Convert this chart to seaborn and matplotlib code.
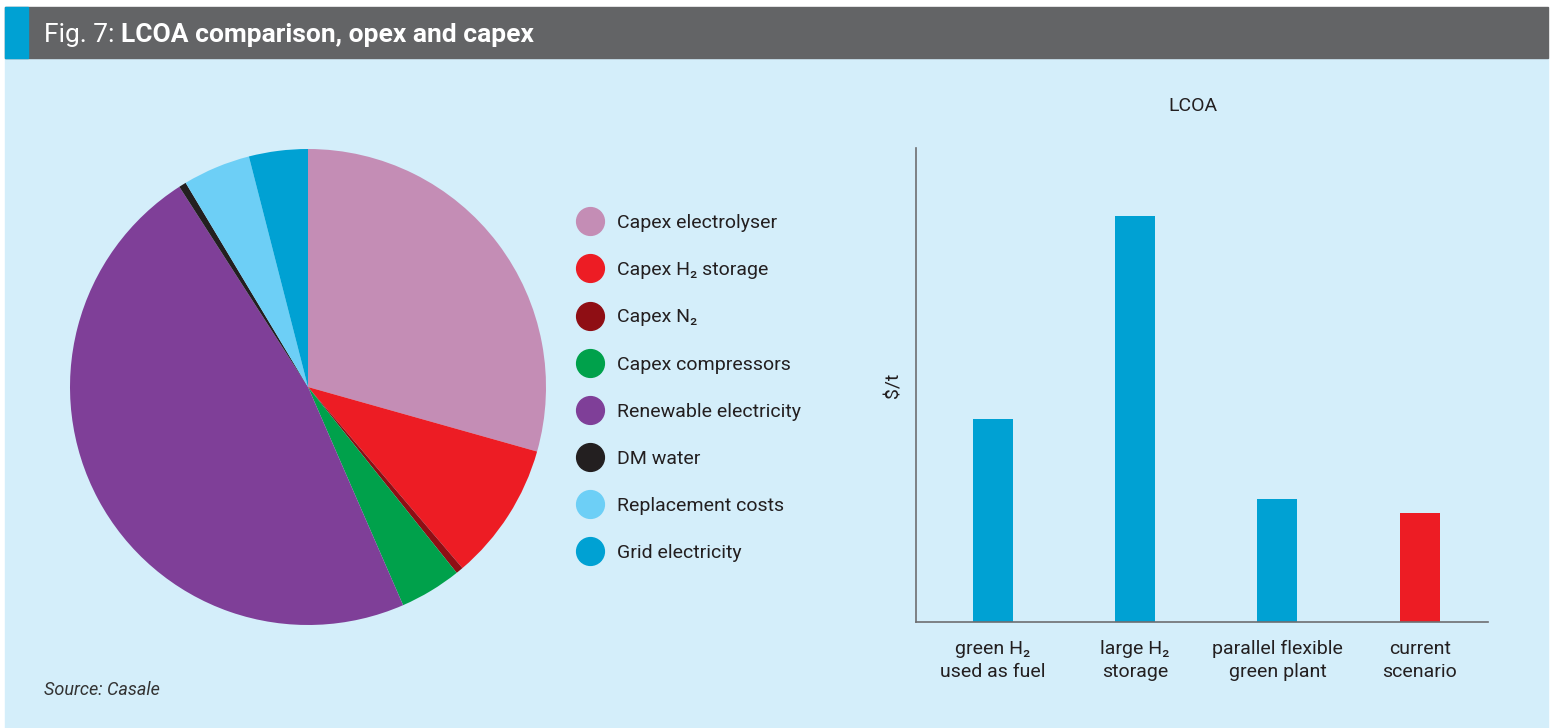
import matplotlib
matplotlib.use("Agg")
import matplotlib.pyplot as plt
from matplotlib import font_manager
from matplotlib.patches import Rectangle
from matplotlib.lines import Line2D
import seaborn as sns
import pandas as pd

# ---- data -------------------------------------------------------------
cost_items = ["Capex electrolyser", "Capex H\u2082 storage", "Capex N\u2082",
              "Capex compressors", "Renewable electricity", "DM water",
              "Replacement costs", "Grid electricity"]
cost_share = [29.4, 9.4, 0.5, 4.2, 47.5, 0.5, 4.6, 4.0]
cost_colors = ["#c48db5", "#ed1c24", "#8f0e14", "#00a14b",
               "#7f3f98", "#231f20", "#6dcff6", "#00a1d3"]

scenarios = ["green H\u2082\nused as fuel", "large H\u2082\nstorage",
             "parallel flexible\ngreen plant", "current\nscenario"]
lcoa = [203, 406, 123, 109]
bar_colors = ["#00a1d3", "#00a1d3", "#00a1d3", "#ed1c24"]

# ---- style ------------------------------------------------------------
sns.set_theme(style="white")
available = {f.name for f in font_manager.fontManager.ttflist}
base_font = "Liberation Sans Narrow" if "Liberation Sans Narrow" in available else "Roboto"
plt.rcParams["font.family"] = [base_font, "DejaVu Sans"]

W, H = 1556, 728
fig = plt.figure(figsize=(W / 100, H / 100), dpi=100)
fig.patch.set_facecolor("white")

def fx(x):
    return x / W

def fy(y):
    return 1 - y / H

# panel background, header bar and accent square (behind the axes)
for x0, y0, w, h, c in [(5, 728, 1543, 670, "#d4eefa"),
                        (5, 58, 1543, 51, "#636466"),
                        (5, 58, 23, 51, "#00a1d3")]:
    fig.patches.append(Rectangle((fx(x0), fy(y0)), w / W, h / H,
                                 transform=fig.transFigure, color=c, zorder=-5))

t1 = fig.text(fx(44), fy(35), "Fig. 7: ", color="white", fontsize=19,
              va="center", ha="left")
fig.canvas.draw()
bb = t1.get_window_extent()
fig.text(bb.x1 / W, fy(35), "LCOA comparison, opex and capex", color="white",
         fontsize=19, fontweight="bold", va="center", ha="left")

# ---- pie ----------------------------------------------------------------
R = 240
ax_pie = fig.add_axes([fx(308 - R), fy(387 + R), 2 * R / W, 2 * R / H])
ax_pie.pie(cost_share, colors=cost_colors, startangle=90, counterclock=False,
           radius=238 / R, wedgeprops=dict(linewidth=0))
ax_pie.set_xlim(-1, 1)
ax_pie.set_ylim(-1, 1)
ax_pie.set_aspect("equal")
ax_pie.axis("off")

handles = [Line2D([], [], marker="o", linestyle="none", markersize=20,
                  markerfacecolor=c, markeredgecolor=c) for c in cost_colors]
fig.legend(handles, cost_items, loc="upper left",
           bbox_to_anchor=(fx(576), fy(214)), frameon=False, fontsize=14,
           handlelength=1.4, handletextpad=0.7, labelspacing=1.5,
           borderpad=0, borderaxespad=0, labelcolor="#231f20")

# ---- bars ---------------------------------------------------------------
ax_bar = fig.add_axes([fx(916), fy(622), 572 / W, 474 / H])
ax_bar.set_facecolor("none")
df = pd.DataFrame({"scenario": scenarios, "lcoa": lcoa})
sns.barplot(data=df, x="scenario", y="lcoa", hue="scenario",
            palette=bar_colors, width=0.28, legend=False, ax=ax_bar,
            saturation=1, linewidth=0, edgecolor="none")
ax_bar.set_xlim(-0.54, 3.48)
ax_bar.set_ylim(0, 474)
ax_bar.set_yticks([])
ax_bar.set_xlabel("")
ax_bar.set_ylabel("$/t", fontsize=14, color="#231f20", labelpad=10)
ax_bar.tick_params(axis="x", length=0, labelsize=14, labelcolor="#231f20", pad=13)
for lbl in ax_bar.get_xticklabels():
    lbl.set_linespacing(1.35)
for s in ["top", "right"]:
    ax_bar.spines[s].set_visible(False)
for s in ["left", "bottom"]:
    ax_bar.spines[s].set_color("#6d6e71")
    ax_bar.spines[s].set_linewidth(1.2)
fig.text(fx(1193), fy(106), "LCOA", fontsize=14, color="#231f20",
         ha="center", va="center")

fig.text(fx(44), fy(690), "Source: Casale", fontsize=13, style="italic",
         color="#333333", ha="left", va="center")

fig.savefig("out.png", dpi=100, facecolor="white")
